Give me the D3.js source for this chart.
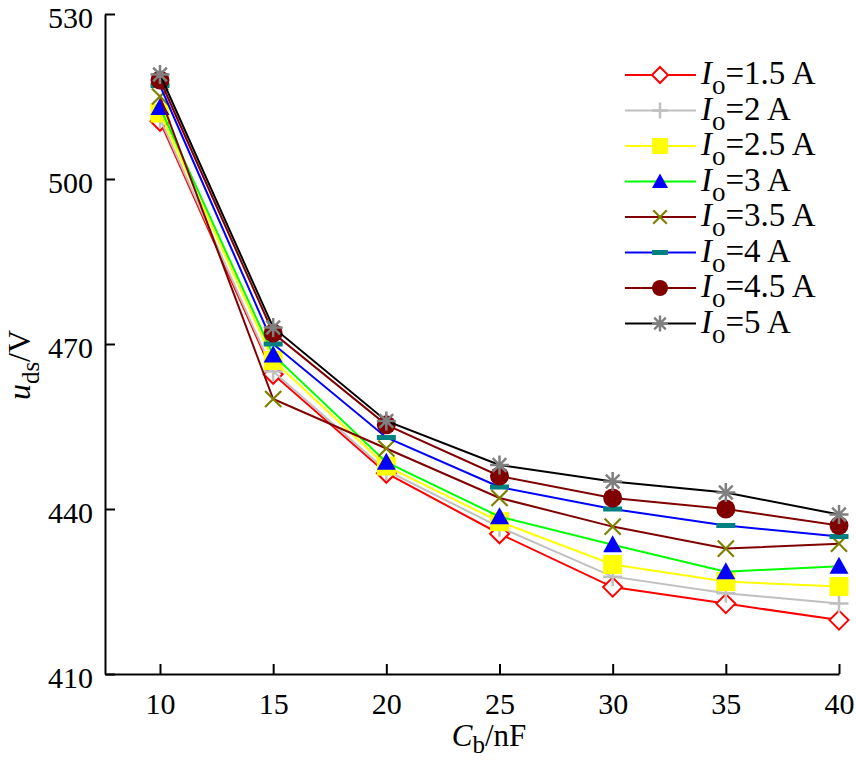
<!DOCTYPE html>
<html><head><meta charset="utf-8">
<script src="https://cdn.jsdelivr.net/npm/d3@7"></script>
<style>body{margin:0;background:#fff}</style></head>
<body><svg id="c" width="856" height="760"></svg>
<script>
const capacitance = [10, 15, 20, 25, 30, 35, 40];
const seriesLabels = ["1.5", "2", "2.5", "3", "3.5", "4", "4.5", "5"];
const u15 = [510.5, 464.5, 446.5, 435.5, 425.8, 422.8, 419.8];
const u20 = [511, 465, 447, 436.7, 427.7, 424.7, 422.8];
const u25 = [512, 467, 447.8, 437.7, 429.9, 426.8, 425.9];
const u30 = [513, 468, 448.5, 438.6, 433.5, 428.6, 429.6];
const u35 = [515, 460, 451, 442, 436.8, 432.8, 433.7];
const u40 = [517, 470, 453, 444, 440, 437, 435];
const u45 = [518, 472, 455.3, 446, 442, 440, 437];
const u50 = [519, 473, 456, 448, 445, 443, 439];
const yTicks = [410, 440, 470, 500, 530];
const xTicks = [10, 15, 20, 25, 30, 35, 40];

const seriesValues = [u15, u20, u25, u30, u35, u40, u45, u50];
const lineColors = ["#ff0000", "#c0c0c0", "#ffff00", "#00ff00", "#800000", "#0000ff", "#800000", "#000000"];
const markerTypes = ["diamond", "plus", "square", "triangle", "cross", "dash", "circle", "star"];
const markerColors = ["#ff0000", "#c0c0c0", "#ffff00", "#0000ff", "#808000", "#008080", "#800000", "#808080"];

const svg = d3.select("#c");
const font = "'Liberation Serif','Times New Roman',serif";
const x = d3.scaleLinear().domain([7.57, 40]).range([105, 839]);
const y = d3.scaleLinear().domain([410, 530]).range([674, 14]);

function drawMarker(g, type, color, cx, cy, s) {
  const h = s / 2;
  if (type === "diamond") {
    g.append("path").attr("d", `M${cx},${cy-h}L${cx+h},${cy}L${cx},${cy+h}L${cx-h},${cy}Z`)
      .attr("fill", "#fff").attr("stroke", color).attr("stroke-width", 2);
  } else if (type === "plus") {
    g.append("path").attr("d", `M${cx},${cy-h}V${cy+h}M${cx-h},${cy}H${cx+h}`)
      .attr("stroke", color).attr("stroke-width", 2.5).attr("fill", "none");
  } else if (type === "square") {
    g.append("rect").attr("x", cx-h).attr("y", cy-h).attr("width", s).attr("height", s).attr("fill", color);
  } else if (type === "triangle") {
    g.append("path").attr("d", `M${cx},${cy-h}L${cx+h},${cy+h*0.8}L${cx-h},${cy+h*0.8}Z`).attr("fill", color);
  } else if (type === "cross") {
    const k = h*0.85;
    g.append("path").attr("d", `M${cx-k},${cy-k}L${cx+k},${cy+k}M${cx-k},${cy+k}L${cx+k},${cy-k}`)
      .attr("stroke", color).attr("stroke-width", 2.2).attr("fill", "none");
  } else if (type === "dash") {
    g.append("rect").attr("x", cx-h).attr("y", cy-2.5).attr("width", s).attr("height", 5).attr("fill", color);
  } else if (type === "circle") {
    g.append("circle").attr("cx", cx).attr("cy", cy).attr("r", h).attr("fill", color);
  } else if (type === "star") {
    const k = h*0.72;
    g.append("path").attr("d", `M${cx},${cy-h}V${cy+h}M${cx-h},${cy}H${cx+h}M${cx-k},${cy-k}L${cx+k},${cy+k}M${cx-k},${cy+k}L${cx+k},${cy-k}`)
      .attr("stroke", color).attr("stroke-width", 2.5).attr("fill", "none");
  }
}

// series
const line = d3.line().x((d, i) => x(capacitance[i])).y(d => y(d));
seriesValues.forEach((vals, si) => {
  const g = svg.append("g");
  g.append("path").attr("d", line(vals)).attr("fill", "none")
    .attr("stroke", lineColors[si]).attr("stroke-width", 2);
  vals.forEach((v, i) => drawMarker(g, markerTypes[si], markerColors[si], x(capacitance[i]), y(v), 19));
});

// axes
const yAxis = d3.axisLeft(y).tickValues(yTicks).tickSizeInner(-10).tickSizeOuter(0).tickPadding(12);
const gy = svg.append("g").attr("transform", "translate(105,0)").call(yAxis);
const xAxis = d3.axisBottom(x).tickValues(xTicks).tickSizeInner(-10).tickSizeOuter(0).tickPadding(14);
const gx = svg.append("g").attr("transform", "translate(0,674)").call(xAxis);
[gx, gy].forEach(g => {
  g.select(".domain").attr("stroke", "#000").attr("stroke-width", 2);
  g.selectAll(".tick line").attr("stroke", "#000").attr("stroke-width", 2);
  g.selectAll(".tick text").attr("fill", "#000").style("font-family", font).style("font-size", "30px");
});
gx.selectAll(".tick text").attr("dy", "0.85em");
gy.selectAll(".tick text").attr("dy", "0.44em");

// axis titles
const xt = svg.append("text").attr("x", 489).attr("y", 746).attr("text-anchor", "middle")
  .style("font-family", font).style("font-size", "31px").attr("fill", "#000");
xt.append("tspan").text("C").style("font-style", "italic");
xt.append("tspan").text("b").attr("dy", 7).style("font-size", "25px");
xt.append("tspan").text("/nF").attr("dy", -7);

const yt = svg.append("text").attr("transform", "translate(30,365) rotate(-90)").attr("text-anchor", "middle")
  .style("font-family", font).style("font-size", "32px").attr("fill", "#000");
yt.append("tspan").text("u").style("font-style", "italic");
yt.append("tspan").text("ds").attr("dy", 9).style("font-size", "25px");
yt.append("tspan").text("/V").attr("dy", -9);

// legend
const legend = svg.append("g");
seriesLabels.forEach((lab, i) => {
  const ly = 75 + i * 35.5;
  const g = legend.append("g");
  g.append("line").attr("x1", 625).attr("x2", 696).attr("y1", ly).attr("y2", ly)
    .attr("stroke", lineColors[i]).attr("stroke-width", 2);
  drawMarker(g, markerTypes[i], markerColors[i], 660, ly, 16);
  const t = g.append("text").attr("x", 701).attr("y", ly + 9)
    .style("font-family", font).style("font-size", "33px").attr("fill", "#000");
  t.append("tspan").text("I").style("font-style", "italic");
  t.append("tspan").text("o").attr("dy", 10).style("font-size", "27px");
  t.append("tspan").text("=" + lab + " A").attr("dy", -10);
});
</script></body></html>
